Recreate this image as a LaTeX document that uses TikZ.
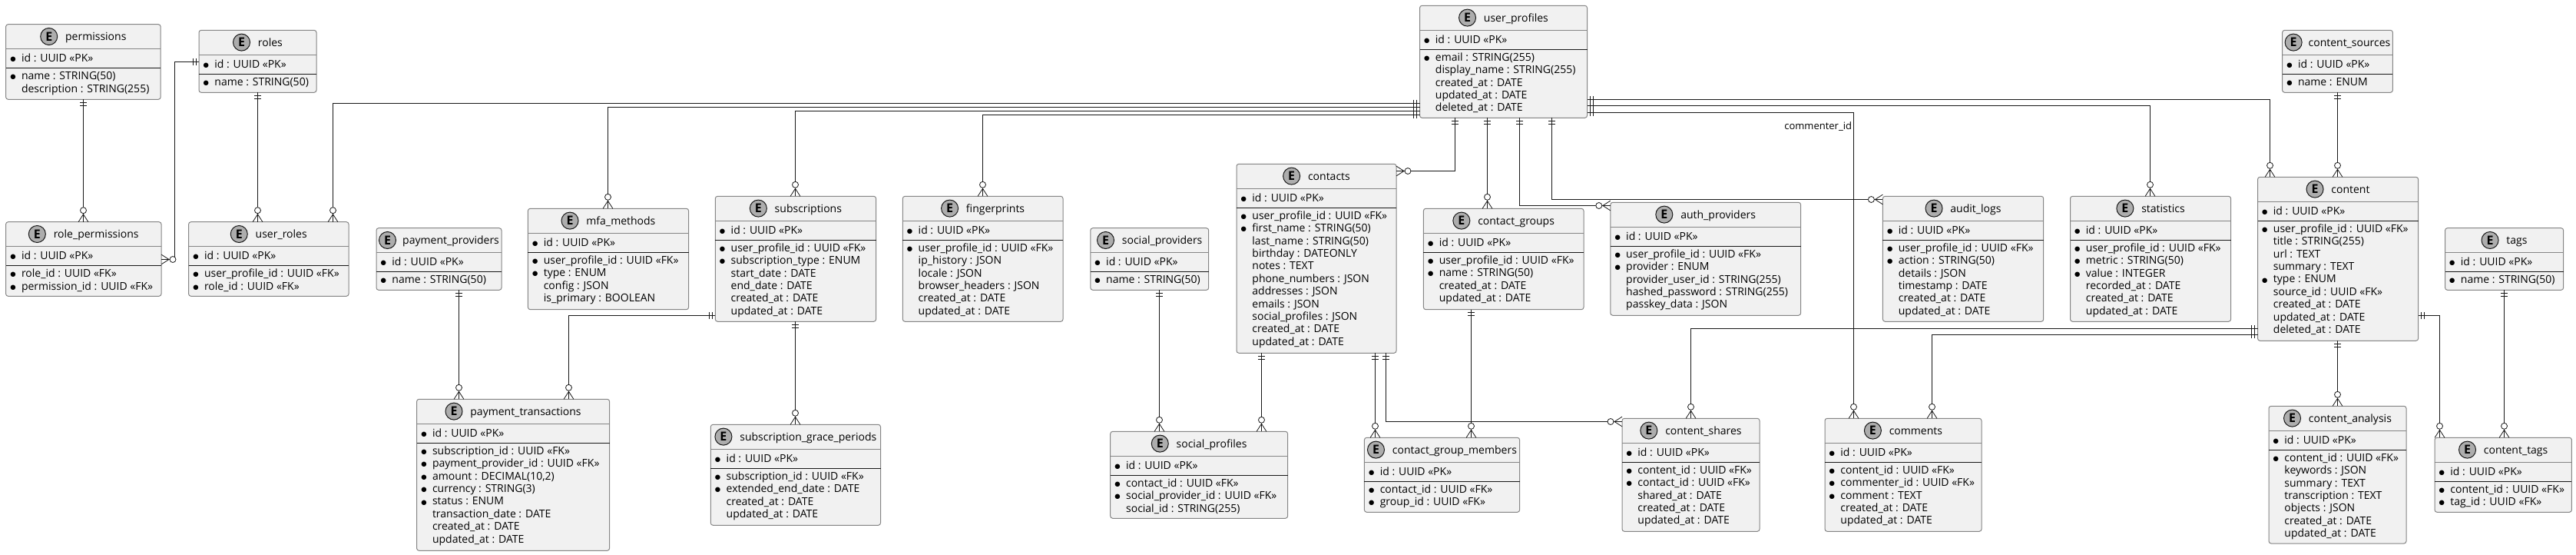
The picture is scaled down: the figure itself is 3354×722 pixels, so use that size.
\documentclass[tikz,border=0pt]{standalone}
\usepackage{fontspec}
\setmainfont{Open Sans}
\newfontfamily\dotfont{DejaVu Sans}
\usetikzlibrary{positioning}
\definecolor{entfill}{HTML}{F1F1F1}
\definecolor{entline}{HTML}{858585}
\definecolor{badgefill}{HTML}{ADADAD}
\definecolor{relline}{HTML}{181818}
\pgfarrowsdeclare{onlyone}{onlyone}{\pgfarrowsleftextend{-4.5pt}\pgfarrowsrightextend{0pt}}{
	\pgfsetlinewidth{.4pt}
	\pgfpathmoveto{\pgfpoint{-2pt}{2.25pt}}\pgfpathlineto{\pgfpoint{-2pt}{-2.25pt}}
	\pgfpathmoveto{\pgfpoint{-4pt}{2.25pt}}\pgfpathlineto{\pgfpoint{-4pt}{-2.25pt}}
	\pgfusepathqstroke
}
\pgfarrowsdeclare{crowfoot}{crowfoot}{\pgfarrowsleftextend{-10pt}\pgfarrowsrightextend{0pt}}{
	\pgfsetlinewidth{.4pt}
	\pgfpathmoveto{\pgfpoint{0pt}{3.2pt}}\pgfpathlineto{\pgfpoint{-5pt}{0pt}}\pgfpathlineto{\pgfpoint{0pt}{-3.2pt}}
	\pgfusepathqstroke
	\pgfsetfillcolor{white}
	\pgfpathcircle{\pgfpoint{-7.5pt}{0pt}}{2pt}
	\pgfusepathqfillstroke
}
\tikzset{
	entbox/.style={draw=entline, fill=entfill, line width=.5pt, rounded corners=1.5pt, inner sep=0pt, outer sep=0pt, anchor=north west},
	hdrline/.style={draw=entline, line width=.5pt},
	idline/.style={draw=relline, line width=.5pt},
	badge/.style={circle, draw=relline, fill=badgefill, line width=.5pt, inner sep=0pt, minimum size=11pt, font=\fontsize{8pt}{8pt}\selectfont\bfseries},
	ttl/.style={font=\entfont, anchor=base west, inner sep=0pt, text=black},
	fld/.style={font=\entfont, anchor=base west, inner sep=0pt, text=black},
	rel/.style={draw=relline, line width=.6pt, arrows=onlyone-crowfoot},
	rellbl/.style={font=\lblfont, anchor=east, inner sep=0pt, text=black}
}
\newcommand{\entfont}{\fontsize{7pt}{8.2pt}\selectfont}
\newcommand{\lblfont}{\fontsize{6.5pt}{8pt}\selectfont}
\newcommand{\req}[1]{\llap{{\dotfont\fontsize{4.2pt}{4.2pt}\selectfont\raisebox{.4pt}{●}}\hspace{3.7pt}}#1}
\newlength{\ttlw}
% name, x, y, width, height, title, fields
\newcommand{\entity}[7]{
	\pgfinterruptpicture\settowidth{\ttlw}{\entfont #6}\global\ttlw=\ttlw\endpgfinterruptpicture
	\pgfmathsetmacro{\ttlgap}{min(5,#4*0.5-11-\ttlw-3.5)}
	\pgfmathsetmacro{\ttlleft}{(#4*0.5-11-\ttlgap-\ttlw)/2}
	\node[entbox, minimum width=#4*0.5pt, minimum height=#5*0.5pt] (#1) at (#2,#3) {};
	\draw[hdrline] ([yshift=-16pt]#1.north west) -- ([yshift=-16pt]#1.north east);
	\draw[idline] ([yshift=-28.5pt]#1.north west) -- ([yshift=-28.5pt]#1.north east);
	\node[badge] (#1-e) at ([xshift=\ttlleft pt+5.5pt, yshift=-7.9pt]#1.north west) {E};
	\node[ttl] (#1-t) at ([xshift=\ttlleft pt+11pt+\ttlgap pt, yshift=-10.5pt]#1.north west) {#6};
	\node[fld] (#1-id) at ([xshift=10pt, yshift=-24.5pt]#1.north west) {\req{id : UUID «PK»}};
	\foreach \f [count=\i from 0] in {#7}
		\node[fld] (#1-f\i) at ([xshift=10pt, yshift=-36pt-8.2pt*\i]#1.north west) {\f};
}
\begin{document}
\catcode`\_=12
\begin{tikzpicture}[x=0.5pt,y=-0.5pt]
	\useasboundingbox (0,0) rectangle (3354,722);

	\def\upid{\req{user_profile_id : UUID «FK»}}
	\def\cat{created_at : DATE}
	\def\uat{updated_at : DATE}
	\def\dat{deleted_at : DATE}
	\def\cid{\req{content_id : UUID «FK»}}

	\entity{permissions}{7.6}{31.7}{201.6}{97.6}{permissions}{\req{name : STRING(50)},description : STRING(255)}
	\entity{roles}{259}{39.3}{153}{81}{roles}{\req{name : STRING(50)}}
	\entity{role_permissions}{7.6}{288.7}{202.4}{96.6}{role_permissions}{\req{role_id : UUID «FK»},\req{permission_id : UUID «FK»}}
	\entity{user_roles}{245.6}{288.7}{208.4}{96.6}{user_roles}{\upid,\req{role_id : UUID «FK»}}
	\entity{payment_providers}{490}{296.7}{163}{80.6}{payment_providers}{\req{name : STRING(50)}}
	\entity{mfa_methods}{687.4}{271.3}{209.2}{131.4}{mfa_methods}{\upid,\req{type : ENUM},config : JSON,is_primary : BOOLEAN}
	\entity{subscriptions}{931.3}{255.3}{209.3}{163}{subscriptions}{\upid,\req{subscription_type : ENUM},start_date : DATE,end_date : DATE,\cat,\uat}
	\entity{fingerprints}{1175.3}{255.3}{208.7}{163}{fingerprints}{\upid,ip_history : JSON,locale : JSON,browser_headers : JSON,\cat,\uat}
	\entity{social_providers}{1419.8}{296.7}{153.9}{80.6}{social_providers}{\req{name : STRING(50)}}
	\entity{contacts}{1610}{213.3}{208}{246}{contacts}{\upid,\req{first_name : STRING(50)},last_name : STRING(50),birthday : DATEONLY,notes : TEXT,phone_numbers : JSON,addresses : JSON,emails : JSON,social_profiles : JSON,\cat,\uat}
	\entity{user_profiles}{1848.5}{7.3}{218}{146}{user_profiles}{\req{email : STRING(255)},display_name : STRING(255),\cat,\uat,\dat}
	\entity{contact_groups}{1853.4}{271.3}{208.6}{131.4}{contact_groups}{\upid,\req{name : STRING(50)},\cat,\uat}
	\entity{auth_providers}{2096.8}{263.3}{247.8}{147}{auth_providers}{\upid,\req{provider : ENUM},provider_user_id : STRING(255),hashed_password : STRING(255),passkey_data : JSON}
	\entity{audit_logs}{2451.4}{255.3}{209.3}{163}{audit_logs}{\upid,\req{action : STRING(50)},details : JSON,timestamp : DATE,\cat,\uat}
	\entity{statistics}{2695.5}{255.3}{209.1}{163}{statistics}{\upid,\req{metric : STRING(50)},\req{value : INTEGER},recorded_at : DATE,\cat,\uat}
	\entity{content}{2939.5}{230.3}{209.1}{213}{content}{\upid,title : STRING(255),url : TEXT,summary : TEXT,\req{type : ENUM},source_id : UUID «FK»,\cat,\uat,\dat}
	\entity{content_sources}{2971.6}{39.3}{143.8}{81}{content_sources}{\req{name : ENUM}}
	\entity{tags}{3183.5}{296.7}{154.1}{80.6}{tags}{\req{name : STRING(50)}}
	\entity{payment_transactions}{542.6}{519.3}{251}{197}{payment_transactions}{\req{subscription_id : UUID «FK»},\req{payment_provider_id : UUID «FK»},\req{amount : DECIMAL(10,2)},\req{currency : STRING(3)},\req{status : ENUM},transaction_date : DATE,\cat,\uat}
	\entity{subscription_grace_periods}{925.3}{552.3}{221.2}{131}{subscription_grace_periods}{\req{subscription_id : UUID «FK»},\req{extended_end_date : DATE},\cat,\uat}
	\entity{social_profiles}{1445.7}{561.3}{230.9}{113}{social_profiles}{\req{contact_id : UUID «FK»},\req{social_provider_id : UUID «FK»},social_id : STRING(255)}
	\entity{contact_group_members}{1776.4}{569.3}{202.2}{97}{contact_group_members}{\req{contact_id : UUID «FK»},\req{group_id : UUID «FK»}}
	\entity{content_shares}{2112}{544.3}{179}{147}{content_shares}{\cid,\req{contact_id : UUID «FK»},shared_at : DATE,\cat,\uat}
	\entity{comments}{2376}{544.3}{204}{147}{comments}{\cid,\req{commenter_id : UUID «FK»},\req{comment : TEXT},\cat,\uat}
	\entity{content_analysis}{2954}{528.3}{179}{178.7}{content_analysis}{\cid,keywords : JSON,summary : TEXT,transcription : TEXT,objects : JSON,\cat,\uat}
	\entity{content_tags}{3170}{569.3}{178.4}{97}{content_tags}{\cid,\req{tag_id : UUID «FK»}}

	\draw[rel] (permissions.south -| 108.5,0) -- (role_permissions.north -| 108.5,0);
	\draw[rel] (roles.west |- 0,80.5) -- (227.5,80.5) |- (role_permissions.east |- 0,337.5);
	\draw[rel] (roles.south -| 335.5,0) -- (user_roles.north -| 335.5,0);
	\draw[rel] (user_profiles.west |- 0,134.5) -| (user_roles.north -| 433.5,0);
	\draw[rel] (user_profiles.west |- 0,139.5) -| (mfa_methods.north -| 791.5,0);
	\draw[rel] (user_profiles.west |- 0,144.5) -| (subscriptions.north -| 1035.5,0);
	\draw[rel] (user_profiles.west |- 0,149.5) -| (fingerprints.north -| 1279.5,0);
	\draw[rel] (user_profiles.south -| 1894.5,0) |- (contacts.east |- 0,222.5);
	\draw[rel] (user_profiles.south -| 1936.5,0) -- (contact_groups.north -| 1936.5,0);
	\draw[rel] (user_profiles.south -| 1978.5,0) |- (auth_providers.west |- 0,267.5);
	\draw[rel] (user_profiles.south -| 2020.5,0) |- (audit_logs.west |- 0,259.5);
	\draw[rel] (user_profiles.east |- 0,129.5) -| (content.north -| 2955.5,0);
	\draw[rel] (user_profiles.east |- 0,137.5) -| (statistics.north -| 2799.5,0);
	\draw[rel] (user_profiles.east |- 0,146.5) -| (comments.north -| 2413.5,0);
	\node[rellbl] (commenter_lbl) at (2411.5,165) {commenter_id};
	\draw[rel] (content_sources.south -| 3043.5,0) -- (content.north -| 3043.5,0);
	\draw[rel] (tags.south -| 3260.5,0) -- (content_tags.north -| 3260.5,0);
	\draw[rel] (content.east |- 0,410.5) -| (content_tags.north -| 3176.5,0);
	\draw[rel] (content.south -| 3043.5,0) -- (content_analysis.north -| 3043.5,0);
	\draw[rel] (content.west |- 0,427.5) -| (content_shares.north -| 2201.5,0);
	\draw[rel] (content.west |- 0,435.5) -| (comments.north -| 2515.5,0);
	\draw[rel] (contacts.south -| 1804.5,0) |- (content_shares.west |- 0,548.5);
	\draw[rel] (contacts.south -| 1790.5,0) -- (contact_group_members.north -| 1790.5,0);
	\draw[rel] (contact_groups.south -| 1915.5,0) -- (contact_group_members.north -| 1915.5,0);
	\draw[rel] (contacts.south -| 1642.5,0) -- (social_profiles.north -| 1642.5,0);
	\draw[rel] (social_providers.south -| 1509.5,0) -- (social_profiles.north -| 1509.5,0);
	\draw[rel] (subscriptions.west |- 0,410.5) -| (payment_transactions.north -| 740.5,0);
	\draw[rel] (payment_providers.south -| 597.5,0) -- (payment_transactions.north -| 597.5,0);
	\draw[rel] (subscriptions.south -| 1035.5,0) -- (subscription_grace_periods.north -| 1035.5,0);
\end{tikzpicture}
\end{document}
